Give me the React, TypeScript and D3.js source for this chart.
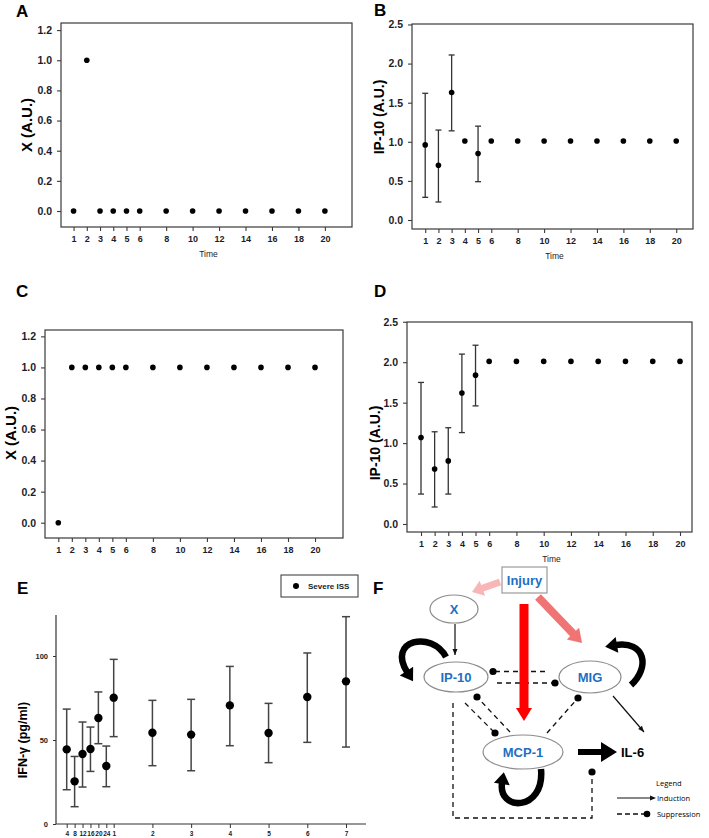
import React, { useRef, useEffect } from 'react';
import * as d3 from 'd3';

// ---- data ----
const times = [1, 2, 3, 4, 5, 6, 8, 10, 12, 14, 16, 18, 20];

const aValues = [0, 1, 0, 0, 0, 0, 0, 0, 0, 0, 0, 0, 0];
const cValues = [0, 1, 1, 1, 1, 1, 1, 1, 1, 1, 1, 1, 1];

const bMean = [0.96, 0.70, 1.63, 1.01, 0.85, 1.01, 1.01, 1.01, 1.01, 1.01, 1.01, 1.01, 1.01];
const bUpper = [1.62, 1.15, 2.11, null, 1.20, null, null, null, null, null, null, null, null];
const bLower = [0.29, 0.23, 1.14, null, 0.49, null, null, null, null, null, null, null, null];

const dMean = [1.07, 0.68, 0.78, 1.62, 1.84, 2.01, 2.01, 2.01, 2.01, 2.01, 2.01, 2.01, 2.01];
const dUpper = [1.75, 1.14, 1.19, 2.10, 2.21, null, null, null, null, null, null, null, null];
const dLower = [0.37, 0.21, 0.37, 1.13, 1.46, null, null, null, null, null, null, null, null];

const eTickLabels = ['4', '8', '12', '16', '20', '24', '1', '2', '3', '4', '5', '6', '7'];
const eMean = [44.4, 25.4, 41.7, 44.6, 63.1, 34.5, 75.2, 54.3, 53.2, 70.6, 54.2, 75.6, 84.9];
const eUpper = [68.4, 40.2, 60.7, 57.7, 78.6, 46.4, 98.0, 73.6, 74.2, 93.8, 71.8, 101.8, 123.4];
const eLower = [20.4, 10.3, 22.0, 31.3, 47.8, 22.2, 52.0, 34.7, 31.7, 46.6, 36.5, 48.6, 45.8];

// diagram nodes (panel F)
const fNodes = [
  { id: 'X', cx: 454, cy: 609, rx: 24, ry: 14 },
  { id: 'IP-10', cx: 456, cy: 677, rx: 32, ry: 15 },
  { id: 'MIG', cx: 590, cy: 677, rx: 31, ry: 16 },
  { id: 'MCP-1', cx: 523, cy: 752, rx: 40, ry: 17 },
];

const FONT = '"Liberation Sans", Arial, sans-serif';
const BLUE = '#1f6fc1';

type Cfg = {
  left: number; right: number; top: number; bottom: number;
  xDomain: [number, number]; yDomain: [number, number];
  yTicks: number[]; mean: number[]; upper?: (number | null)[]; lower?: (number | null)[];
  letter: string; letterX: number; letterY: number;
  yLabel: string; yLabelX: number; yLabelY: number; yLabelSize: number;
  timeY?: number;
};

function drawPanel(svg: any, cfg: Cfg) {
  const g = svg.append('g');
  const x = d3.scaleLinear().domain(cfg.xDomain).range([cfg.left, cfg.right]);
  const y = d3.scaleLinear().domain(cfg.yDomain).range([cfg.bottom, cfg.top]);

  g.append('rect')
    .attr('x', cfg.left).attr('y', cfg.top)
    .attr('width', cfg.right - cfg.left).attr('height', cfg.bottom - cfg.top)
    .attr('fill', 'none').attr('stroke', '#3a3a3a').attr('stroke-width', 1.2);

  const ya = g.append('g').attr('transform', `translate(${cfg.left},0)`)
    .call(d3.axisLeft(y).tickValues(cfg.yTicks).tickFormat(d3.format('.1f')).tickSize(4).tickPadding(5).tickSizeOuter(0));
  const xa = g.append('g').attr('transform', `translate(0,${cfg.bottom})`)
    .call(d3.axisBottom(x).tickValues(times).tickFormat(d3.format('d')).tickSize(4).tickPadding(5).tickSizeOuter(0));
  [ya, xa].forEach(a => {
    a.select('.domain').remove();
    a.selectAll('.tick line').attr('stroke', '#3a3a3a').attr('stroke-width', 1.1);
    a.selectAll('.tick text').attr('fill', '#1c1c2a').style('font-family', FONT).style('font-weight', 'bold');
  });
  ya.selectAll('.tick text').style('font-size', '10.5px');
  xa.selectAll('.tick text').style('font-size', '9px');

  // error bars
  if (cfg.upper && cfg.lower) {
    times.forEach((t, i) => {
      const u = cfg.upper![i], l = cfg.lower![i];
      if (u == null || l == null) return;
      const cx = x(t);
      g.append('line').attr('x1', cx).attr('x2', cx).attr('y1', y(u)).attr('y2', y(l))
        .attr('stroke', '#333').attr('stroke-width', 1.3);
      [u, l].forEach(v => g.append('line').attr('x1', cx - 3).attr('x2', cx + 3).attr('y1', y(v)).attr('y2', y(v))
        .attr('stroke', '#333').attr('stroke-width', 1.3));
    });
  }

  g.selectAll('circle.pt').data(cfg.mean).enter().append('circle')
    .attr('cx', (_: number, i: number) => x(times[i])).attr('cy', (d: number) => y(d))
    .attr('r', 2.8).attr('fill', '#000');

  g.append('text').attr('x', cfg.letterX).attr('y', cfg.letterY).text(cfg.letter)
    .style('font-family', FONT).style('font-weight', 'bold').style('font-size', '17px');

  g.append('text').attr('transform', `translate(${cfg.yLabelX},${cfg.yLabelY}) rotate(-90)`)
    .attr('text-anchor', 'middle').attr('dominant-baseline', 'central').text(cfg.yLabel)
    .style('font-family', FONT).style('font-weight', 'bold').style('font-size', `${cfg.yLabelSize}px`);

  if (cfg.timeY) {
    g.append('text').attr('x', (cfg.left + cfg.right) / 2 + 2).attr('y', cfg.timeY).attr('text-anchor', 'middle')
      .text('Time').style('font-family', FONT).style('font-size', '8.5px').attr('fill', '#222');
  }
}

function blockArrow(x1: number, y1: number, x2: number, y2: number, w: number, hw: number, hl: number) {
  const dx = x2 - x1, dy = y2 - y1;
  const len = Math.hypot(dx, dy);
  const ux = dx / len, uy = dy / len, px = -uy, py = ux;
  const bx = x2 - ux * hl, by = y2 - uy * hl;
  const pts = [
    [x1 + px * w / 2, y1 + py * w / 2],
    [bx + px * w / 2, by + py * w / 2],
    [bx + px * hw / 2, by + py * hw / 2],
    [x2, y2],
    [bx - px * hw / 2, by - py * hw / 2],
    [bx - px * w / 2, by - py * w / 2],
    [x1 - px * w / 2, y1 - py * w / 2],
  ];
  return pts.map(p => p.join(',')).join(' ');
}

function arrowHead(tx: number, ty: number, fx: number, fy: number, hl: number, hw: number) {
  const dx = tx - fx, dy = ty - fy;
  const len = Math.hypot(dx, dy);
  const ux = dx / len, uy = dy / len, px = -uy, py = ux;
  const bx = tx - ux * hl, by = ty - uy * hl;
  return [[tx, ty], [bx + px * hw / 2, by + py * hw / 2], [bx - px * hw / 2, by - py * hw / 2]]
    .map(p => p.join(',')).join(' ');
}

function drawDiagram(svg: any) {
  const g = svg.append('g');

  g.append('text').attr('x', 373).attr('y', 594).text('F')
    .style('font-family', FONT).style('font-weight', 'bold').style('font-size', '17px');

  // dashed suppression links
  const dash = (pts: [number, number][], dotEnd: boolean) => {
    g.append('path').attr('d', d3.line()(pts)).attr('fill', 'none').attr('stroke', '#111')
      .attr('stroke-width', 1.3).attr('stroke-dasharray', '5,4');
    if (dotEnd) {
      const p = pts[pts.length - 1];
      g.append('circle').attr('cx', p[0]).attr('cy', p[1]).attr('r', 3.6).attr('fill', '#000');
    }
  };
  dash([[545, 671.5], [493, 671.5]], true);
  dash([[497, 683], [555, 683]], true);
  dash([[465, 703], [495, 733]], true);
  dash([[510, 732], [477, 697]], true);
  dash([[547, 733], [578, 698]], true);
  dash([[453, 703], [453, 818], [592, 818], [592, 772]], true);

  // big coloured arrows from injury
  g.append('polygon').attr('points', blockArrow(500, 582, 472, 592, 7, 16, 11)).attr('fill', '#f8b6b6');
  g.append('polygon').attr('points', blockArrow(524, 604, 524, 721, 9, 16, 13)).attr('fill', '#ff0000');
  g.append('polygon').attr('points', blockArrow(538, 597, 582, 643, 8, 17, 13)).attr('fill', '#f07474');

  // thin induction arrows
  const thin = (x1: number, y1: number, x2: number, y2: number) => {
    g.append('line').attr('x1', x1).attr('y1', y1).attr('x2', x2).attr('y2', y2).attr('stroke', '#111').attr('stroke-width', 1.2);
    g.append('polygon').attr('points', arrowHead(x2, y2, x1, y1, 6, 5)).attr('fill', '#111');
  };
  thin(455, 624, 455, 655);
  thin(613, 696, 644, 732);

  // thick arrow MCP-1 -> IL-6
  g.append('polygon').attr('points', blockArrow(578, 752, 617, 752, 6, 20, 16)).attr('fill', '#000');

  // curved self-loops: cubic path, arrowhead continues along end tangent
  const loop = (p0: number[], c1: number[], c2: number[], p1: number[]) => {
    const dx = p1[0] - c2[0], dy = p1[1] - c2[1];
    const len = Math.hypot(dx, dy);
    const hl = 11;
    const tip = [p1[0] + dx / len * hl, p1[1] + dy / len * hl];
    const path = d3.path();
    path.moveTo(p0[0], p0[1]);
    path.bezierCurveTo(c1[0], c1[1], c2[0], c2[1], p1[0] + dx / len, p1[1] + dy / len);
    g.append('path').attr('d', path.toString()).attr('fill', 'none').attr('stroke', '#000')
      .attr('stroke-width', 6.5).attr('stroke-linecap', 'butt');
    g.append('polygon').attr('points', arrowHead(tip[0], tip[1], p1[0], p1[1], hl + 1, 16)).attr('fill', '#000');
  };
  loop([446, 657], [432, 630], [386, 640], [407, 672]);
  loop([631, 685], [650, 668], [646, 640], [616, 645]);
  loop([541, 769], [545, 812], [497, 812], [502, 783]);

  // nodes
  fNodes.forEach(n => {
    g.append('ellipse').attr('cx', n.cx).attr('cy', n.cy).attr('rx', n.rx).attr('ry', n.ry)
      .attr('fill', '#fff').attr('stroke', '#8c8c8c').attr('stroke-width', 1.2);
    g.append('text').attr('x', n.cx).attr('y', n.cy).attr('text-anchor', 'middle').attr('dominant-baseline', 'central')
      .text(n.id).attr('fill', BLUE).style('font-family', FONT).style('font-weight', 'bold').style('font-size', '13px');
  });
  g.append('rect').attr('x', 502).attr('y', 567).attr('width', 45).attr('height', 26)
    .attr('fill', '#fff').attr('stroke', '#9a9a9a').attr('stroke-width', 1.2);
  g.append('text').attr('x', 524.5).attr('y', 580).attr('text-anchor', 'middle').attr('dominant-baseline', 'central')
    .text('Injury').attr('fill', BLUE).style('font-family', FONT).style('font-weight', 'bold').style('font-size', '13px');

  g.append('text').attr('x', 621).attr('y', 752).attr('dominant-baseline', 'central').text('IL-6')
    .style('font-family', FONT).style('font-weight', 'bold').style('font-size', '13px');

  // legend
  const lf = '"Open Sans", "Noto Sans", sans-serif';
  g.append('text').attr('x', 656).attr('y', 786).text('Legend').style('font-family', lf).style('font-size', '7.5px');
  g.append('line').attr('x1', 617).attr('x2', 650).attr('y1', 798).attr('y2', 798).attr('stroke', '#111').attr('stroke-width', 1);
  g.append('polygon').attr('points', arrowHead(656, 798, 617, 798, 6, 5)).attr('fill', '#111');
  g.append('text').attr('x', 657).attr('y', 798).attr('dominant-baseline', 'central').text('Induction').style('font-family', lf).style('font-size', '7.5px');
  g.append('line').attr('x1', 617).attr('x2', 646).attr('y1', 814).attr('y2', 814).attr('stroke', '#111').attr('stroke-width', 1.3).attr('stroke-dasharray', '5,3');
  g.append('circle').attr('cx', 647).attr('cy', 814).attr('r', 3.3).attr('fill', '#000');
  g.append('text').attr('x', 657).attr('y', 814).attr('dominant-baseline', 'central').text('Suppression').style('font-family', lf).style('font-size', '7.5px');
}

function drawPanelE(svg: any) {
  const g = svg.append('g');
  const left = 56, bottom = 824, top = 615, axisEnd = 366;
  const x = d3.scaleLinear().domain([0, 5, 6, 12]).range([66.7, 106.3, 113.7, 346]);
  const y = d3.scaleLinear().domain([0, 124.4]).range([bottom, top]);

  g.append('line').attr('x1', left).attr('x2', left).attr('y1', top).attr('y2', bottom).attr('stroke', '#333').attr('stroke-width', 1.2);
  g.append('line').attr('x1', left).attr('x2', axisEnd).attr('y1', bottom).attr('y2', bottom).attr('stroke', '#333').attr('stroke-width', 1.2);

  const ya = g.append('g').attr('transform', `translate(${left},0)`)
    .call(d3.axisLeft(y).tickValues([0, 50, 100]).tickSize(3).tickPadding(5).tickSizeOuter(0));
  const xa = g.append('g').attr('transform', `translate(0,${bottom})`)
    .call(d3.axisBottom(x).tickValues(d3.range(eTickLabels.length)).tickFormat((i: any) => eTickLabels[i]).tickSize(4).tickPadding(3).tickSizeOuter(0));
  [ya, xa].forEach(a => {
    a.select('.domain').remove();
    a.selectAll('.tick line').attr('stroke', '#333');
    a.selectAll('.tick text').attr('fill', '#222').style('font-family', FONT).style('font-weight', 'bold');
  });
  ya.selectAll('.tick text').style('font-size', '7.5px');
  xa.selectAll('.tick text').style('font-size', '6.5px');

  eMean.forEach((m, i) => {
    const cx = x(i);
    g.append('line').attr('x1', cx).attr('x2', cx).attr('y1', y(eUpper[i])).attr('y2', y(eLower[i]))
      .attr('stroke', '#444').attr('stroke-width', 1.5);
    [eUpper[i], eLower[i]].forEach(v => g.append('line').attr('x1', cx - 4).attr('x2', cx + 4).attr('y1', y(v)).attr('y2', y(v))
      .attr('stroke', '#444').attr('stroke-width', 1.5));
  });
  g.selectAll('circle.e').data(eMean).enter().append('circle')
    .attr('cx', (_: number, i: number) => x(i)).attr('cy', (d: number) => y(d)).attr('r', 4.2).attr('fill', '#000');

  g.append('text').attr('x', 17).attr('y', 594).text('E')
    .style('font-family', FONT).style('font-weight', 'bold').style('font-size', '17px');
  g.append('text').attr('transform', 'translate(23,740) rotate(-90)').attr('text-anchor', 'middle')
    .attr('dominant-baseline', 'central').text('IFN-γ (pg/ml)')
    .style('font-family', FONT).style('font-weight', 'bold').style('font-size', '12.5px');

  // legend box
  g.append('rect').attr('x', 281).attr('y', 575).attr('width', 77).attr('height', 22)
    .attr('fill', '#fff').attr('stroke', '#333').attr('stroke-width', 1);
  g.append('circle').attr('cx', 296).attr('cy', 586).attr('r', 3).attr('fill', '#000');
  g.append('text').attr('x', 308).attr('y', 586).attr('dominant-baseline', 'central').text('Severe ISS')
    .style('font-family', FONT).style('font-weight', 'bold').style('font-size', '8px').attr('fill', '#222');
}

export default function App() {
  const ref = useRef<SVGSVGElement | null>(null);

  useEffect(() => {
    if (!ref.current) return;
    const svg = d3.select(ref.current);
    svg.selectAll('*').remove();
    svg.append('rect').attr('width', 709).attr('height', 838).attr('fill', '#fff');

    drawPanel(svg, {
      left: 61, right: 352, top: 23, bottom: 227,
      xDomain: [0.05, 22.05], yDomain: [-0.106, 1.247],
      yTicks: [0, 0.2, 0.4, 0.6, 0.8, 1.0, 1.2], mean: aValues,
      letter: 'A', letterX: 16, letterY: 17,
      yLabel: 'X (A.U.)', yLabelX: 26, yLabelY: 125, yLabelSize: 15, timeY: 257,
    });
    drawPanel(svg, {
      left: 412, right: 693, top: 24, bottom: 229,
      xDomain: [0, 21.27], yDomain: [-0.115, 2.506],
      yTicks: [0, 0.5, 1.0, 1.5, 2.0, 2.5], mean: bMean, upper: bUpper, lower: bLower,
      letter: 'B', letterX: 374, letterY: 16,
      yLabel: 'IP-10 (A.U.)', yLabelX: 379, yLabelY: 117, yLabelSize: 14, timeY: 259,
    });
    drawPanel(svg, {
      left: 45, right: 343, top: 330, bottom: 538,
      xDomain: [0.016, 22.07], yDomain: [-0.0985, 1.241],
      yTicks: [0, 0.2, 0.4, 0.6, 0.8, 1.0, 1.2], mean: cValues,
      letter: 'C', letterX: 16, letterY: 297,
      yLabel: 'X (A.U.)', yLabelX: 10, yLabelY: 433, yLabelSize: 15,
    });
    drawPanel(svg, {
      left: 407, right: 692, top: 322, bottom: 532,
      xDomain: [-0.027, 20.88], yDomain: [-0.099, 2.497],
      yTicks: [0, 0.5, 1.0, 1.5, 2.0, 2.5], mean: dMean, upper: dUpper, lower: dLower,
      letter: 'D', letterX: 374, letterY: 297,
      yLabel: 'IP-10 (A.U.)', yLabelX: 375, yLabelY: 443, yLabelSize: 14, timeY: 562,
    });
    drawPanelE(svg);
    drawDiagram(svg);
  }, []);

  return (
    <div style={{ position: 'absolute', left: 0, top: 0 }}>
      <svg ref={ref} width={709} height={838} style={{ display: 'block' }} />
    </div>
  );
}
